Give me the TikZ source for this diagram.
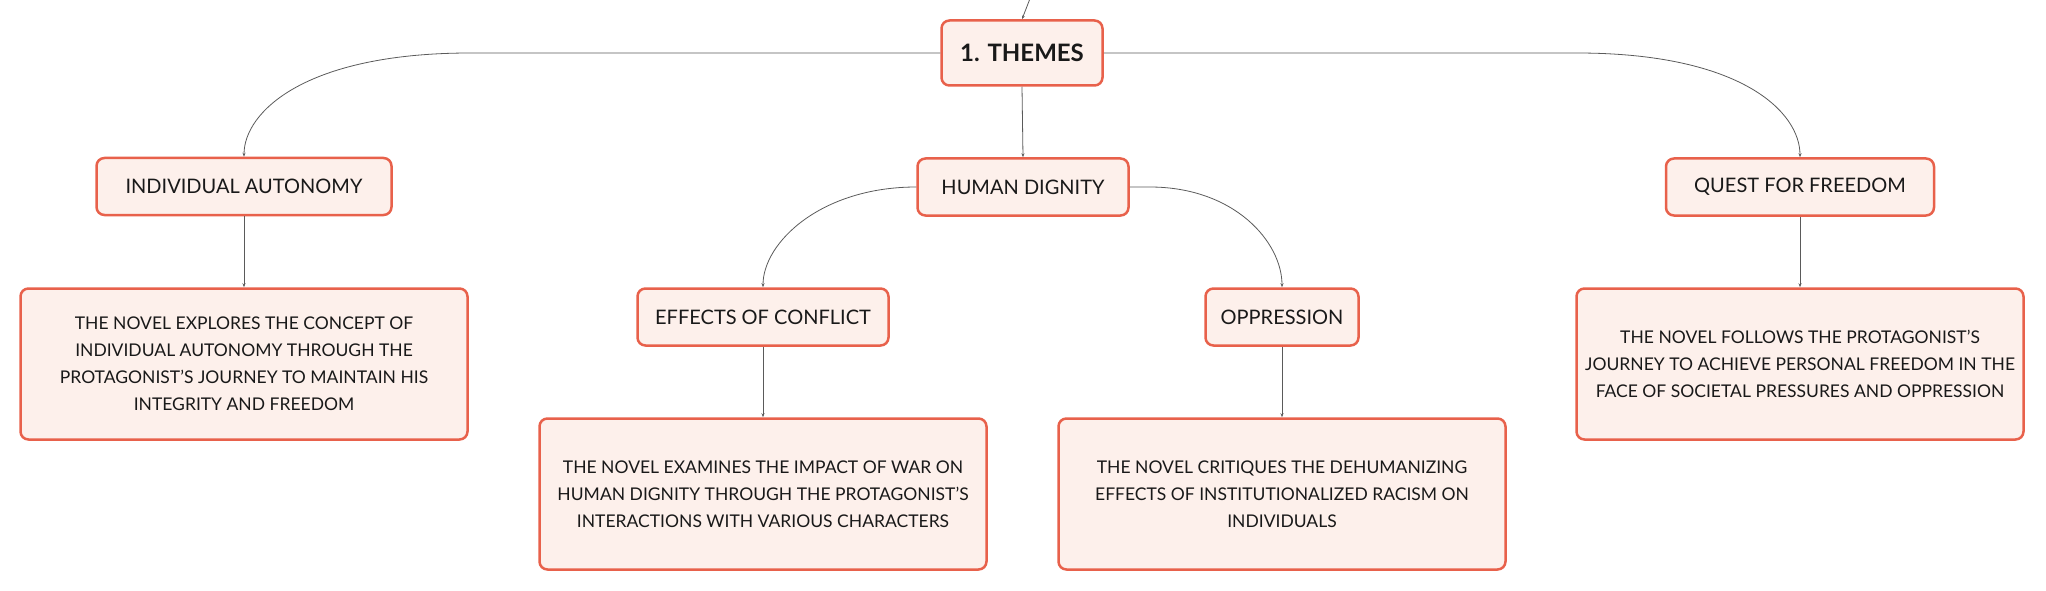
\documentclass[tikz,border=0pt]{standalone}
\usepackage{fontspec}
\setmainfont{Lato}
\usepackage{tikz}
\usetikzlibrary{arrows.meta}
\definecolor{boxline}{HTML}{E8614B}
\definecolor{boxfill}{HTML}{FDF0EB}
\definecolor{linkgray}{HTML}{5A5A5A}

\begin{document}
\begin{tikzpicture}[x=1pt,y=-1pt,
    box/.style={draw=boxline, fill=boxfill, line width=2.5pt, rounded corners=8pt,
        inner sep=0pt, align=center, text=black!90},
    topic/.style={box, minimum height=57pt, font=\fontsize{20}{24}\selectfont},
    note/.style={box, minimum width=447pt, minimum height=151pt,
        font=\fontsize{17.5}{27}\selectfont},
    link/.style={draw=linkgray, line width=0.8pt, -{Stealth[length=4pt,width=3pt]}}]
        \useasboundingbox (0,0) rectangle (2046,591);
        % main topic
        \node[box, minimum width=161pt, minimum height=65pt,
            font=\fontsize{24}{28}\bfseries\selectfont] (themes) at (1022,53) {1. THEMES};
        \coordinate (up) at (1031,-4);
        % sub topics
        \node[topic, minimum width=295pt] (indiv) at (244,186.5) {INDIVIDUAL AUTONOMY};
        \node[topic, minimum width=211pt] (dignity) at (1023,187) {HUMAN DIGNITY};
        \node[topic, minimum width=268pt] (quest) at (1800,187) {QUEST FOR FREEDOM};
        \node[topic, minimum width=251pt] (conflict) at (763,317) {EFFECTS OF CONFLICT};
        \node[topic, minimum width=153pt] (oppr) at (1282,317) {OPPRESSION};
        % notes
        \node[note] (indivnote) at (244,364) {THE NOVEL EXPLORES THE CONCEPT OF\\
            INDIVIDUAL AUTONOMY THROUGH THE\\ PROTAGONIST'S JOURNEY TO MAINTAIN HIS\\
            INTEGRITY AND FREEDOM};
        \node[note] (conflictnote) at (763,494) {THE NOVEL EXAMINES THE IMPACT OF WAR ON\\
            HUMAN DIGNITY THROUGH THE PROTAGONIST'S\\ INTERACTIONS WITH VARIOUS CHARACTERS};
        \node[note] (opprnote) at (1282,494) {THE NOVEL CRITIQUES THE DEHUMANIZING\\
            EFFECTS OF INSTITUTIONALIZED RACISM ON\\ INDIVIDUALS};
        \node[note] (questnote) at (1800,364) {THE NOVEL FOLLOWS THE PROTAGONIST'S\\
            JOURNEY TO ACHIEVE PERSONAL FREEDOM IN THE\\ FACE OF SOCIETAL PRESSURES AND OPPRESSION};
        % connectors
        \draw[link] (up) -- (themes.north);
        \draw[link] (themes.west) -- ++(-470,0) .. controls +(-165,0) and +(0,-45) .. (indiv.north);
        \draw[link] (themes.east) -- ++(473,0) .. controls +(165,0) and +(0,-45) .. (quest.north);
        \draw[link] (themes.south) -- (dignity.north);
        \draw[link] (dignity.west) .. controls +(-95,0) and +(0,-45) .. (conflict.north);
        \draw[link] (dignity.east) -- ++(20,0) .. controls +(85,0) and +(0,-45) .. (oppr.north);
        \draw[link] (indiv.south) -- (indivnote.north);
        \draw[link] (conflict.south) -- (conflictnote.north);
        \draw[link] (oppr.south) -- (opprnote.north);
        \draw[link] (quest.south) -- (questnote.north);
    \end{tikzpicture}
\end{document}
